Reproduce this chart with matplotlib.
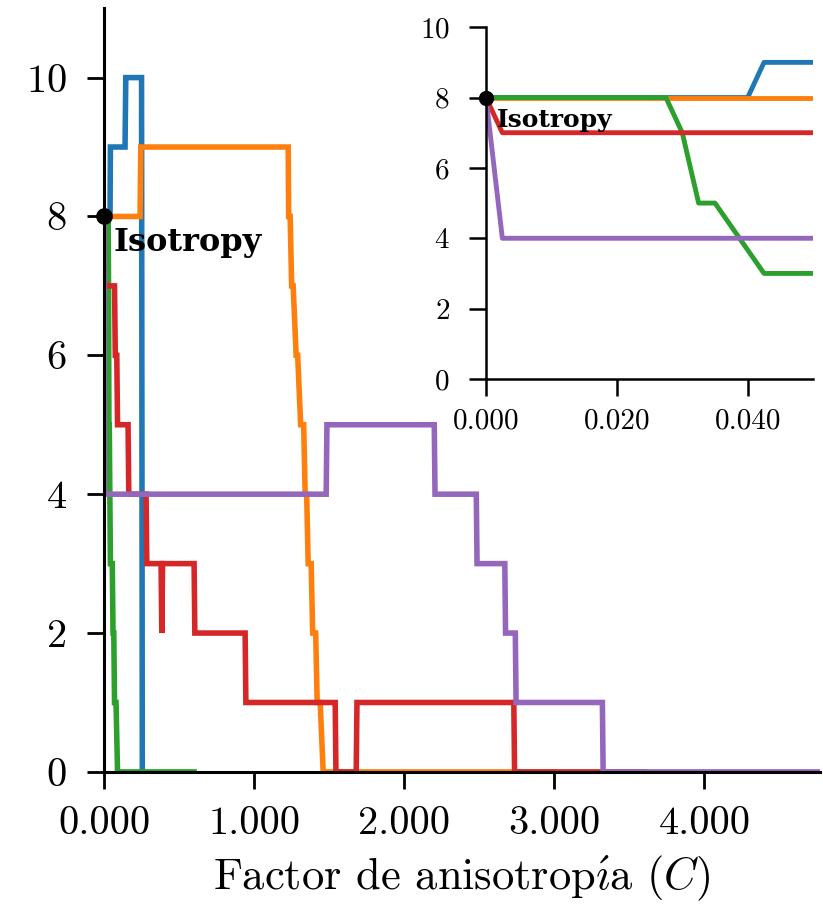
import matplotlib
matplotlib.use("Agg")
import matplotlib.pyplot as plt

plt.rcParams["font.family"] = ["cmr10", "DejaVu Serif"]
plt.rcParams["mathtext.fontset"] = "cm"
plt.rcParams["axes.formatter.use_mathtext"] = True

# step-like curves (C, value)
blue_x = [0.0, 0.040, 0.0425, 0.140, 0.145, 0.250, 0.255]
blue_y = [8, 8, 9, 9, 10, 10, 0]

orange_x = [0.0, 0.24, 0.245, 1.227, 1.23, 1.24, 1.25, 1.26, 1.28, 1.29, 1.31,
            1.33, 1.34, 1.35, 1.36, 1.38, 1.39, 1.41, 1.42, 1.44, 1.46, 3.0]
orange_y = [8, 8, 9, 9, 8, 8, 7, 7, 6, 6, 5, 5, 4, 4, 3, 3, 2, 2, 1, 1, 0, 0]

green_x = [0.0, 0.0275, 0.030, 0.0325, 0.035, 0.0425, 0.055, 0.060, 0.065,
           0.070, 0.080, 0.090, 0.60]
green_y = [8, 8, 7, 5, 5, 3, 3, 2, 2, 1, 1, 0, 0]

red_x = [0.0, 0.0025, 0.070, 0.075, 0.085, 0.090, 0.160, 0.165, 0.280, 0.285,
         0.380, 0.385, 0.390, 0.600, 0.605, 0.940, 0.945, 1.540, 1.545, 1.680,
         1.685, 2.730, 2.735, 3.6]
red_y = [8, 7, 7, 6, 6, 5, 5, 4, 4, 3, 3, 2, 3, 3, 2, 2, 1, 1, 0, 0, 1, 1, 0, 0]

purple_x = [0.0, 0.0025, 1.480, 1.485, 2.200, 2.205, 2.480, 2.485, 2.670, 2.675,
            2.740, 2.745, 3.320, 3.325, 4.8]
purple_y = [8, 4, 4, 5, 5, 4, 4, 3, 3, 2, 2, 1, 1, 0, 0]

series = [
    (blue_x, blue_y, "tab:blue"),
    (orange_x, orange_y, "tab:orange"),
    (green_x, green_y, "tab:green"),
    (red_x, red_y, "tab:red"),
    (purple_x, purple_y, "tab:purple"),
]

iso_c, iso_value = 0.0, 8

fig = plt.figure(figsize=(8.23, 9.06), dpi=100)

# main panel
ax = fig.add_axes([0.1264, 0.148, 0.870, 0.843])
for xs, ys, color in series:
    ax.plot(xs, ys, color=color, lw=4, solid_joinstyle="miter")
ax.plot([iso_c], [iso_value], "o", color="black", ms=11, clip_on=False, zorder=5)
ax.text(0.06, 7.62, "Isotropy", fontsize=23, family="DejaVu Serif",
        fontweight="bold", va="center")
ax.set_xlim(0, 4.77)
ax.set_ylim(0, 11)
ax.set_xticks([0, 1, 2, 3, 4])
ax.set_xticklabels([f"{v:.3f}" for v in [0, 1, 2, 3, 4]])
ax.set_yticks([0, 2, 4, 6, 8, 10])
ax.set_xlabel(r"Factor de anisotrop$\acute{\imath}$a ($C$)", fontsize=32, labelpad=8)
ax.tick_params(labelsize=29, length=12, width=2)
ax.tick_params(axis="x", pad=13)
ax.tick_params(axis="y", pad=15)
for side in ("top", "right"):
    ax.spines[side].set_visible(False)
for side in ("left", "bottom"):
    ax.spines[side].set_linewidth(2.2)

# zoomed inset near isotropy
inset = fig.add_axes([0.5905, 0.5817, 0.3975, 0.3883])
for xs, ys, color in series:
    inset.plot(xs, ys, color=color, lw=3.5)
inset.plot([iso_c], [iso_value], "o", color="black", ms=10, clip_on=False, zorder=5)
inset.text(0.0016, 7.36, "Isotropy", fontsize=18, family="DejaVu Serif",
           fontweight="bold", va="center")
inset.set_xlim(0, 0.05)
inset.set_ylim(0, 10)
inset.set_xticks([0, 0.02, 0.04])
inset.set_xticklabels([f"{v:.3f}" for v in [0, 0.02, 0.04]])
inset.set_yticks([0, 2, 4, 6, 8, 10])
inset.tick_params(labelsize=21, length=12, width=1.8)
inset.tick_params(axis="x", pad=9)
inset.tick_params(axis="y", pad=14)
for side in ("top", "right"):
    inset.spines[side].set_visible(False)
for side in ("left", "bottom"):
    inset.spines[side].set_linewidth(1.8)

fig.savefig("out.png", dpi=100)
